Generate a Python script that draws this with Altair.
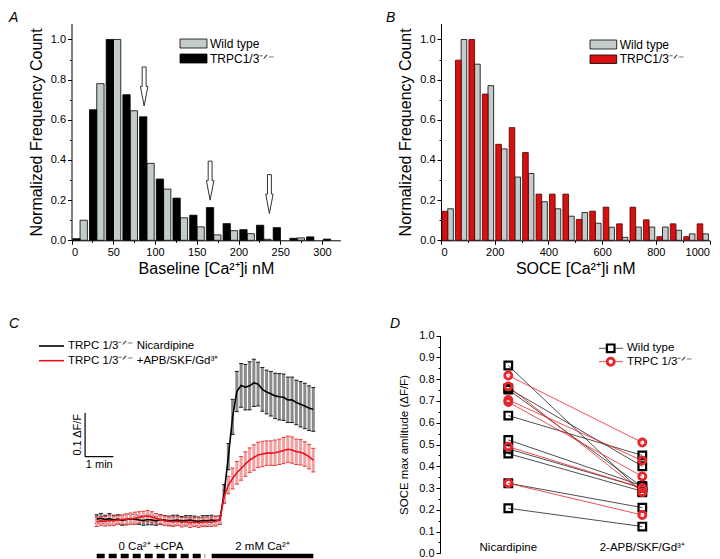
import altair as alt
import pandas as pd

FONT = "Liberation Sans"
W, H = 704, 551

# ---------------- Panel A : baseline histogram ----------------
a_bins = [0, 20, 40, 60, 80, 100, 120, 140, 160, 180, 200, 220, 240, 260, 280, 300]
a_wt = [0.100, 0.780, 1.000, 0.645, 0.383, 0.255, 0.112, 0.067, 0.027, 0.048, 0.033, 0.005, 0.0, 0.012, 0.0, 0.0]
a_ko = [0.008, 0.650, 1.000, 0.725, 0.615, 0.305, 0.210, 0.125, 0.163, 0.083, 0.053, 0.075, 0.063, 0.010, 0.017, 0.006]
a_arrow_x = [87, 166, 237]
a_arrow_y = [0.766, 0.297, 0.230]

# ---------------- Panel B : SOCE histogram ----------------
b_bins = [0, 50, 100, 150, 200, 250, 300, 350, 400, 450, 500, 550, 600, 650, 700, 750, 800, 850, 900, 950]
b_wt = [0.157, 1.000, 0.877, 0.770, 0.455, 0.315, 0.333, 0.192, 0.157, 0.120, 0.138, 0.085, 0.065, 0.015, 0.066, 0.066, 0.066, 0.050, 0.032, 0.032]
b_ko = [0.144, 0.897, 1.000, 0.728, 0.478, 0.561, 0.437, 0.230, 0.230, 0.230, 0.104, 0.145, 0.165, 0.082, 0.165, 0.102, 0.018, 0.082, 0.018, 0.082]

# ---------------- Panel C : traces (time in min, dF/F) ----------------
c_time = [round(0.15 * i, 2) for i in range(52)]
c_black_mean = [0.002, 0.004, 0.001, 0.003, 0.000, 0.002, -0.001, 0.001, 0.003, 0.002, 0.000, -0.001, 0.001, 0.000,
                -0.002, 0.001, 0.000, -0.002, -0.001, 0.000, -0.002, -0.001, 0.000, -0.002, -0.003, -0.001, -0.002,
                0.000, -0.001,
                0.000, 0.061, 0.145, 0.236, 0.294, 0.308, 0.304, 0.307, 0.314, 0.311, 0.299, 0.293, 0.289, 0.284,
                0.282, 0.281, 0.275, 0.275, 0.269, 0.265, 0.261, 0.256, 0.253]
c_black_sd = [0.010, 0.011, 0.010, 0.012, 0.011, 0.010, 0.011, 0.012, 0.010, 0.011, 0.010, 0.011, 0.012, 0.011,
              0.010, 0.011, 0.010, 0.011, 0.012, 0.011, 0.010, 0.011, 0.010, 0.011, 0.010, 0.011, 0.012, 0.011, 0.010,
              0.010, 0.020, 0.030, 0.040, 0.046, 0.050, 0.052, 0.055, 0.054, 0.050, 0.050, 0.050, 0.051, 0.052,
              0.053, 0.053, 0.052, 0.052, 0.051, 0.052, 0.052, 0.051, 0.050]
c_red_mean = [-0.004, -0.002, -0.003, -0.001, -0.002, 0.000, 0.001, 0.002, 0.003, 0.004, 0.006, 0.008, 0.009, 0.007,
              0.004, 0.001, -0.002, -0.003, -0.004, -0.003, -0.005, -0.004, -0.006, -0.005, -0.006, -0.005, -0.004,
              -0.005, -0.003,
              0.000, 0.053, 0.080, 0.095, 0.108, 0.118, 0.128, 0.137, 0.143, 0.149, 0.151, 0.153, 0.153, 0.154,
              0.156, 0.159, 0.162, 0.160, 0.156, 0.155, 0.151, 0.145, 0.137]
c_red_sd = [0.011, 0.010, 0.011, 0.012, 0.011, 0.010, 0.011, 0.012, 0.013, 0.014, 0.013, 0.012, 0.013, 0.012, 0.011,
            0.010, 0.011, 0.010, 0.011, 0.010, 0.011, 0.010, 0.011, 0.010, 0.011, 0.010, 0.011, 0.010, 0.011,
            0.010, 0.015, 0.020, 0.024, 0.026, 0.027, 0.028, 0.028, 0.029, 0.029, 0.029, 0.028, 0.028, 0.029,
            0.029, 0.030, 0.030, 0.030, 0.029, 0.029, 0.028, 0.028, 0.027]
c_protocol_labels = ["0 Ca²⁺ +CPA", "2 mM Ca²⁺"]
c_protocol_start = [0.0, 4.06]
c_protocol_end = [3.83, 7.65]
c_scalebar_t = -0.41
c_scalebar_v = 0.145

# ---------------- Panel D : paired amplitudes ----------------
d_conditions = ["Nicardipine", "2-APB/SKF/Gd³⁺"]
d_wt_nic = [0.863, 0.758, 0.752, 0.633, 0.521, 0.480, 0.458, 0.322, 0.207]
d_wt_apb = [0.280, 0.400, 0.305, 0.450, 0.310, 0.300, 0.285, 0.210, 0.123]
d_ko_nic = [0.817, 0.767, 0.705, 0.695, 0.490, 0.322]
d_ko_apb = [0.509, 0.281, 0.426, 0.353, 0.300, 0.176]

# ---------------- helpers ----------------
def lin(dom, rng):
    return alt.Scale(domain=dom, range=rng, nice=False, zero=False)

A_X = lin([0, 322], [63.5, 332.4])
A_Y = lin([0, 1.08], [232.3, 15.4])
B_X = lin([0, 1000], [433, 701.5])
B_Y = lin([0, 1.08], [232.3, 15.4])
C_X = lin([0, 7.65], [88.7, 305.3])
C_Y = lin([0, 0.1], [512, 468.3])
D_Y = lin([0, 1.0], [545.3, 327.7])
D_X = alt.Scale(type="point", domain=d_conditions, range=[500.3, 634.3], padding=0)

def yaxis(off, values, title=None, minor=False, tsize=16, tpad=6, fmt=".1f"):
    if minor:
        return alt.Axis(orient="left", offset=-off, values=values, labels=False, domain=False,
                        tickSize=2, title=None)
    return alt.Axis(orient="left", offset=-off, values=values, format=fmt, title=title,
                    titleFontSize=tsize, titlePadding=tpad)

def xaxis(ypix, values, title=None, minor=False):
    if minor:
        return alt.Axis(orient="bottom", offset=ypix - H, values=values, labels=False, domain=False,
                        tickSize=2, title=None)
    return alt.Axis(orient="bottom", offset=ypix - H, values=values, format="d", title=title,
                    titleFontSize=16, titlePadding=3)

layers = []

# ---- A bars ----
dfA = pd.DataFrame({"bin": a_bins * 2, "v": a_wt + a_ko, "s": ["wt"] * len(a_bins) + ["ko"] * len(a_bins)})
dfA = dfA[dfA.v > 0]
layers.append(
    alt.Chart(dfA).transform_filter(alt.datum.s == "wt")
    .transform_calculate(x0="datum.bin + 10.25", x1="datum.bin + 19")
    .mark_rect(fill="#c3cbcb", stroke="black", strokeWidth=0.8)
    .encode(x=alt.X("x0:Q", scale=A_X, axis=xaxis(232.3, [0, 50, 100, 150, 200, 250, 300], "Baseline [Ca²⁺]i nM")),
            x2="x1:Q",
            y=alt.Y("v:Q", scale=A_Y, axis=yaxis(63.5, [0, 0.2, 0.4, 0.6, 0.8, 1.0], "Normalized Frequency Count")),
            y2=alt.datum(0))
)
layers.append(
    alt.Chart(dfA).transform_filter(alt.datum.s == "ko")
    .transform_calculate(x0="datum.bin + 1.5", x1="datum.bin + 10.25")
    .mark_rect(fill="black", stroke="black", strokeWidth=0.8)
    .encode(x=alt.X("x0:Q", scale=A_X, axis=xaxis(232.3, [25, 75, 125, 175, 225, 275], minor=True)),
            x2="x1:Q",
            y=alt.Y("v:Q", scale=A_Y, axis=yaxis(63.5, [0.1, 0.3, 0.5, 0.7, 0.9], minor=True)),
            y2=alt.datum(0))
)
ARROW = "M-0.1,-1L0.1,-1L0.1,0L0.19,0L0,1L-0.19,0L-0.1,0Z"
layers.append(
    alt.Chart(pd.DataFrame({"x": a_arrow_x, "y": a_arrow_y}))
    .mark_point(shape=ARROW, size=1521, filled=True, fill="white", stroke="#333333", strokeWidth=1, opacity=1)
    .encode(x=alt.X("x:Q", scale=A_X, axis=None), y=alt.Y("y:Q", scale=A_Y, axis=None))
)

# ---- B bars ----
dfB = pd.DataFrame({"bin": b_bins * 2, "v": b_wt + b_ko, "s": ["wt"] * len(b_bins) + ["ko"] * len(b_bins)})
layers.append(
    alt.Chart(dfB).transform_filter(alt.datum.s == "wt")
    .transform_calculate(x0="datum.bin + 25", x1="datum.bin + 46")
    .mark_rect(fill="#c3cbcb", stroke="black", strokeWidth=0.8)
    .encode(x=alt.X("x0:Q", scale=B_X, axis=xaxis(232.3, [0, 200, 400, 600, 800, 1000], "SOCE [Ca²⁺]i nM")),
            x2="x1:Q",
            y=alt.Y("v:Q", scale=B_Y, axis=yaxis(433, [0, 0.2, 0.4, 0.6, 0.8, 1.0], "Normalized Frequency Count")),
            y2=alt.datum(0))
)
layers.append(
    alt.Chart(dfB).transform_filter(alt.datum.s == "ko")
    .transform_calculate(x0="datum.bin + 4", x1="datum.bin + 25")
    .mark_rect(fill="#d81010", stroke="#4a0000", strokeWidth=0.8)
    .encode(x=alt.X("x0:Q", scale=B_X, axis=xaxis(232.3, [100, 300, 500, 700, 900], minor=True)),
            x2="x1:Q",
            y=alt.Y("v:Q", scale=B_Y, axis=yaxis(433, [0.1, 0.3, 0.5, 0.7, 0.9], minor=True)),
            y2=alt.datum(0))
)

# ---- A/B legends (pixel layout) ----
leg_ab = pd.DataFrame({
    "x0": [172, 172, 582, 582], "x1": [199, 199, 608.7, 608.7],
    "y0": [31, 46, 32, 47], "y1": [40, 55, 41, 55.5],
    "fill": ["#c3cbcb", "black", "#c3cbcb", "#d81010"],
    "label": ["Wild type", "TRPC1/3⁻ᐟ⁻", "Wild type", "TRPC1/3⁻ᐟ⁻"],
})
layers.append(
    alt.Chart(leg_ab).mark_rect(stroke="black", strokeWidth=0.8)
    .encode(x=alt.X("x0:Q", scale=None), x2="x1:Q", y=alt.Y("y0:Q", scale=None), y2="y1:Q",
            fill=alt.Fill("fill:N", scale=None))
)
layers.append(
    alt.Chart(leg_ab).transform_calculate(tx="datum.x1 + 3", ty="(datum.y0 + datum.y1) / 2")
    .mark_text(align="left", baseline="middle", fontSize=12)
    .encode(x=alt.X("tx:Q", scale=None), y=alt.Y("ty:Q", scale=None), text="label:N")
)

# ---- C traces ----
dfC = pd.DataFrame({"t": c_time, "bm": c_black_mean, "bs": c_black_sd, "rm": c_red_mean, "rs": c_red_sd})
cx = alt.X("t:Q", scale=C_X, axis=None)
for m, s, band, cap in [("bm", "bs", "#8a8a8a", "#1a1a1a"), ("rm", "rs", "#f4a0a0", "#e23a3a")]:
    base = alt.Chart(dfC).transform_calculate(lo=f"datum.{m} - datum.{s}", hi=f"datum.{m} + datum.{s}")
    layers.append(base.mark_rule(color=band, strokeWidth=3)
                  .encode(x=cx, y=alt.Y("lo:Q", scale=C_Y, axis=None), y2="hi:Q"))
    layers.append(base.transform_fold(["lo", "hi"], as_=["k", "val"])
                  .mark_tick(orient="horizontal", size=4, thickness=1, color=cap, opacity=1)
                  .encode(x=cx, y=alt.Y("val:Q", scale=C_Y, axis=None)))
layers.append(alt.Chart(dfC).mark_line(color="black", strokeWidth=1.6)
              .encode(x=cx, y=alt.Y("bm:Q", scale=C_Y, axis=None)))
layers.append(alt.Chart(dfC).mark_line(color="#e8141c", strokeWidth=1.6)
              .encode(x=cx, y=alt.Y("rm:Q", scale=C_Y, axis=None)))

# scale bar (1 min, 0.1 dF/F)
sb = pd.DataFrame({"x": [c_scalebar_t, c_scalebar_t], "x2": [c_scalebar_t + 1.0, c_scalebar_t],
                   "y": [c_scalebar_v, c_scalebar_v], "y2": [c_scalebar_v, c_scalebar_v + 0.1]})
layers.append(alt.Chart(sb).mark_rule(color="black", strokeWidth=1.2)
              .encode(x=alt.X("x:Q", scale=C_X, axis=None), x2="x2:Q",
                      y=alt.Y("y:Q", scale=C_Y, axis=None), y2="y2:Q"))
sbt = pd.DataFrame({"x": [c_scalebar_t + 0.5, c_scalebar_t - 0.26], "y": [c_scalebar_v - 0.019, c_scalebar_v + 0.05],
                    "txt": ["1 min", "0.1 ΔF/F"], "ang": [0, 270]})
layers.append(alt.Chart(sbt).transform_filter(alt.datum.ang == 0)
              .mark_text(fontSize=11, baseline="middle")
              .encode(x=alt.X("x:Q", scale=C_X, axis=None), y=alt.Y("y:Q", scale=C_Y, axis=None), text="txt:N"))
layers.append(alt.Chart(sbt).transform_filter(alt.datum.ang == 270)
              .mark_text(fontSize=11, baseline="middle", angle=270)
              .encode(x=alt.X("x:Q", scale=C_X, axis=None), y=alt.Y("y:Q", scale=C_Y, axis=None), text="txt:N"))

# protocol bars
prot = pd.DataFrame({"lab": c_protocol_labels, "s": c_protocol_start, "e": c_protocol_end, "kind": ["dash", "solid"]})
for kind, dash in [("dash", [8, 4]), ("solid", [1, 0])]:
    layers.append(alt.Chart(prot).transform_filter(alt.datum.kind == kind)
                  .transform_calculate(y="-0.0824")
                  .mark_rule(color="black", strokeWidth=4.5, strokeDash=dash, strokeCap="butt")
                  .encode(x=alt.X("s:Q", scale=C_X, axis=None), x2="e:Q",
                          y=alt.Y("y:Q", scale=C_Y, axis=None)))
layers.append(alt.Chart(prot).transform_calculate(m="(datum.s + datum.e) / 2", y="-0.061")
              .mark_text(fontSize=11.5, baseline="middle")
              .encode(x=alt.X("m:Q", scale=C_X, axis=None), y=alt.Y("y:Q", scale=C_Y, axis=None), text="lab:N"))

# C legend (pixel layout)
leg_c = pd.DataFrame({"x0": [31, 31], "x1": [56, 56], "y": [338, 352.7], "col": ["black", "#e8141c"],
                      "label": ["TRPC 1/3⁻ᐟ⁻ Nicardipine", "TRPC 1/3⁻ᐟ⁻ +APB/SKF/Gd³⁺"]})
layers.append(alt.Chart(leg_c).mark_rule(strokeWidth=1.6)
              .encode(x=alt.X("x0:Q", scale=None), x2="x1:Q", y=alt.Y("y:Q", scale=None),
                      color=alt.Color("col:N", scale=None)))
layers.append(alt.Chart(leg_c).transform_calculate(tx="datum.x1 + 4")
              .mark_text(align="left", baseline="middle", fontSize=11.5)
              .encode(x=alt.X("tx:Q", scale=None), y=alt.Y("y:Q", scale=None), text="label:N"))

# ---- D paired plot ----
rows = []
for g, nic, apb in [("wt", d_wt_nic, d_wt_apb), ("ko", d_ko_nic, d_ko_apb)]:
    for i, (a, b) in enumerate(zip(nic, apb)):
        rows.append({"id": f"{g}{i}", "g": g, "cond": d_conditions[0], "v": a})
        rows.append({"id": f"{g}{i}", "g": g, "cond": d_conditions[1], "v": b})
dfD = pd.DataFrame(rows)
dx = alt.X("cond:N", scale=D_X, axis=None)
layers.append(alt.Chart(dfD).transform_filter(alt.datum.g == "wt")
              .mark_line(color="#222222", strokeWidth=0.8)
              .encode(x=dx, y=alt.Y("v:Q", scale=D_Y,
                                    axis=yaxis(432, [round(0.1 * i, 1) for i in range(11)],
                                               "SOCE max amlitude (ΔF/F)", tsize=11.5, tpad=9)),
                      detail="id:N"))
layers.append(alt.Chart(dfD).transform_filter(alt.datum.g == "ko")
              .mark_line(color="#e8262a", strokeWidth=0.8)
              .encode(x=dx, y=alt.Y("v:Q", scale=D_Y,
                                    axis=yaxis(432, [0.05 + 0.1 * i for i in range(10)], minor=True)),
                      detail="id:N"))
layers.append(alt.Chart(dfD).transform_filter(alt.datum.g == "wt")
              .mark_point(shape="square", filled=False, stroke="black", strokeWidth=2.2, size=58, opacity=1)
              .encode(x=dx, y=alt.Y("v:Q", scale=D_Y, axis=None)))
layers.append(alt.Chart(dfD).transform_filter(alt.datum.g == "ko")
              .mark_point(shape="circle", filled=False, stroke="#e8262a", strokeWidth=2.8, size=50, opacity=1)
              .encode(x=dx, y=alt.Y("v:Q", scale=D_Y, axis=None)))
layers.append(alt.Chart(pd.DataFrame({"cond": d_conditions}))
              .mark_text(fontSize=11.5, baseline="middle")
              .encode(x=dx, y=alt.value(540.3), text="cond:N"))

# D legend (pixel layout)
leg_d = pd.DataFrame({"x0": [591, 591], "x1": [615, 615], "xm": [602.7, 602.7], "y": [340.3, 353.7],
                      "label": ["Wild type", "TRPC 1/3⁻ᐟ⁻"], "g": ["wt", "ko"]})
layers.append(alt.Chart(leg_d).transform_filter(alt.datum.g == "wt").mark_rule(color="#222222", strokeWidth=0.8)
              .encode(x=alt.X("x0:Q", scale=None), x2="x1:Q", y=alt.Y("y:Q", scale=None)))
layers.append(alt.Chart(leg_d).transform_filter(alt.datum.g == "ko").mark_rule(color="#e8262a", strokeWidth=0.8)
              .encode(x=alt.X("x0:Q", scale=None), x2="x1:Q", y=alt.Y("y:Q", scale=None)))
layers.append(alt.Chart(leg_d).transform_filter(alt.datum.g == "wt")
              .mark_point(shape="square", filled=True, fill="white", stroke="black", strokeWidth=2.2, size=58, opacity=1)
              .encode(x=alt.X("xm:Q", scale=None), y=alt.Y("y:Q", scale=None)))
layers.append(alt.Chart(leg_d).transform_filter(alt.datum.g == "ko")
              .mark_point(shape="circle", filled=True, fill="white", stroke="#e8262a", strokeWidth=2.8, size=50, opacity=1)
              .encode(x=alt.X("xm:Q", scale=None), y=alt.Y("y:Q", scale=None)))
layers.append(alt.Chart(leg_d).transform_calculate(tx="datum.x1 + 4")
              .mark_text(align="left", baseline="middle", fontSize=11.5)
              .encode(x=alt.X("tx:Q", scale=None), y=alt.Y("y:Q", scale=None), text="label:N"))

# ---- panel letters ----
letters = pd.DataFrame({"t": ["A", "B", "C", "D"], "x": [1, 378, 1, 382], "y": [3, 3, 309, 309]})
layers.append(alt.Chart(letters).mark_text(fontSize=14, fontStyle="italic", align="left", baseline="top")
              .encode(x=alt.X("x:Q", scale=None), y=alt.Y("y:Q", scale=None), text="t:N"))

chart = (
    alt.layer(*layers)
    .resolve_scale(x="independent", y="independent")
    .properties(width=W, height=H, padding=0, autosize="none")
    .configure_view(stroke=None)
    .configure_axis(grid=False, labelFont=FONT, titleFont=FONT, labelColor="black", titleColor="black",
                    tickColor="black", domainColor="black", labelFontSize=11, tickSize=4, labelPadding=2,
                    titleFontWeight="normal", domainWidth=1, tickWidth=1)
    .configure_text(font=FONT, color="black")
)
chart.save("out.html", embed_options={"renderer": "svg", "actions": False})
